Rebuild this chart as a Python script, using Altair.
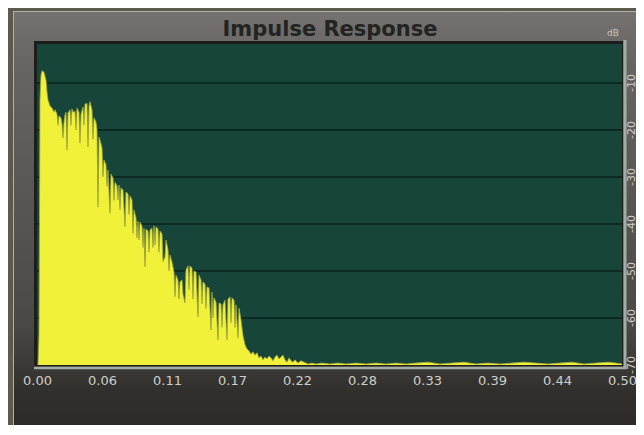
import altair as alt
import pandas as pd

# ---- data ----
time_ms = [0.85, 1.71, 2.56, 3.42, 4.27, 5.98, 7.69, 8.55, 9.40, 11.11, 12.82, 14.53, 15.38, 17.09,
           18.80, 20.51, 21.37, 22.22, 23.08, 23.93, 24.79, 25.64, 26.50, 28.21, 29.91, 30.77, 32.48,
           34.19, 35.90, 36.75, 37.61, 39.32, 41.03, 42.74, 43.59, 44.44, 45.30, 47.01, 48.72, 50.43,
           51.28, 52.14, 52.99, 53.85, 55.56, 57.26, 58.97, 60.68, 62.39, 63.25, 64.96, 66.67, 68.38,
           69.23, 70.09, 71.79, 73.50, 75.21, 76.07, 77.78, 79.49, 81.20, 82.91, 84.62, 86.32, 87.18,
           88.03, 89.74, 91.45, 92.31, 93.16, 94.87, 96.58, 98.29, 100.00, 100.85, 101.71, 103.42,
           105.13, 106.84, 109.40, 110.26, 111.97, 113.68, 115.38, 117.09, 117.95, 118.80, 120.51,
           122.22, 123.93, 126.50, 127.35, 129.06, 130.77, 132.48, 134.19, 135.90, 137.61, 138.46,
           140.17, 141.88, 143.59, 145.30, 147.01, 148.72, 149.57, 151.28, 152.99, 154.70, 155.56,
           157.26, 158.97, 160.68, 162.39, 163.25, 164.96, 166.67, 168.38, 170.09, 171.79, 172.65,
           174.36, 176.07, 177.78, 179.49, 181.20, 182.91, 184.62, 186.32, 188.03, 189.74, 191.45,
           193.16, 194.87, 196.58, 198.29, 200.00, 201.71, 203.42, 205.13, 206.84, 208.55, 210.26,
           211.97, 213.68, 215.38, 217.09, 218.80, 220.51, 223.08, 225.64, 228.21, 231.62, 235.04,
           238.46, 243.59, 250.43, 257.26, 264.10, 272.65, 281.20, 289.74, 298.29, 306.84, 315.38,
           323.93, 334.19, 344.44, 354.70, 364.96, 375.21, 385.47, 395.73, 405.98, 416.24, 426.50,
           436.75, 447.01, 457.26, 467.52, 477.78, 488.03, 494.87, 500.00]

level_db = [-70.0, -63.6, -13.6, -8.3, -7.4, -7.7, -9.4, -11.9, -13.6, -14.9, -15.3, -16.2, -15.7,
            -16.6, -17.0, -17.4, -18.7, -21.7, -18.3, -16.8, -16.2, -24.3, -16.4, -15.7, -15.5, -16.2,
            -16.0, -15.3, -16.2, -22.8, -16.6, -15.1, -14.5, -14.3, -23.6, -14.9, -14.0, -15.7, -17.4,
            -18.3, -20.0, -36.4, -21.5, -22.1, -23.8, -26.4, -27.4, -28.5, -37.7, -29.4, -30.2, -31.1,
            -31.9, -34.9, -31.7, -32.3, -32.8, -40.6, -33.2, -33.6, -34.0, -34.9, -37.0, -38.7, -39.4,
            -43.4, -39.6, -40.4, -40.9, -49.1, -41.1, -41.5, -41.3, -40.9, -40.4, -44.5, -40.6, -41.1,
            -41.5, -42.1, -47.0, -43.4, -45.5, -46.6, -48.1, -50.2, -55.5, -50.9, -51.9, -52.3, -51.9,
            -56.8, -49.8, -48.9, -48.9, -49.4, -50.0, -50.2, -59.8, -50.9, -51.9, -52.3, -52.8, -53.4,
            -53.6, -62.6, -54.5, -55.7, -56.6, -64.7, -56.8, -57.0, -57.2, -56.2, -64.7, -56.0, -55.5,
            -55.7, -56.2, -57.2, -64.3, -57.9, -60.4, -63.8, -65.7, -66.6, -67.0, -67.7, -67.2, -67.9,
            -67.4, -68.5, -68.1, -68.9, -68.3, -68.7, -68.1, -68.5, -69.1, -68.3, -67.9, -68.7, -68.3,
            -67.9, -68.9, -69.4, -68.5, -69.1, -69.4, -68.9, -69.6, -69.1, -69.4, -69.8, -69.6, -69.8,
            -69.6, -69.8, -69.6, -69.8, -69.6, -69.8, -69.6, -69.8, -69.6, -69.8, -69.6, -69.4, -69.8,
            -69.6, -69.4, -69.8, -69.6, -69.8, -69.6, -69.4, -69.6, -69.8, -69.6, -69.4, -69.8, -69.6,
            -69.4, -69.6, -69.8]

# extra narrow dips (dark streaks inside the yellow)
dip_ms = [17.95, 29.06, 33.33, 40.17, 47.86, 56.41, 59.83, 65.81, 70.94, 78.63, 82.05, 85.47,
          90.60, 95.73, 99.15, 104.27, 107.69, 112.82, 121.37, 124.79, 129.91, 133.33, 141.03,
          144.44, 150.43, 158.12, 165.81, 169.23]
dip_db = [-19.0, -19.0, -20.0, -19.0, -22.0, -30.0, -32.0, -35.0, -37.0, -38.0, -42.0, -43.0,
          -45.0, -46.0, -45.0, -46.0, -48.0, -50.0, -56.0, -55.0, -54.0, -56.0, -57.0,
          -58.0, -60.0, -62.0, -61.0, -62.0]

x_tick_values = [0.0, 0.05556, 0.11111, 0.16667, 0.22222, 0.27778, 0.33333, 0.38889, 0.44444, 0.5]
db_grid = [-10, -20, -30, -40, -50, -60]
db_labels = [-10, -20, -30, -40, -50, -60, -70]
title_text = "Impulse Response"

assert len(time_ms) == len(level_db)
assert len(dip_ms) == len(dip_db)

# ---- styles ----
OLIVE = "#5b5a4c"
BEVEL = "#b1b0a9"
BORDER = "#1b1e1b"
TEAL = "#17453a"
GRID = "#0c2a22"
YELLOW = "#f2f13a"
EDGE = "#a2aa3c"
AXISLINE = "#a4ada5"
LABEL = "#cfcfc9"

W, H = 585, 321
xs = alt.Scale(domain=[0, 0.5], nice=False, zero=False)
ys = alt.Scale(domain=[-70, -1.7], nice=False, zero=False)

df = pd.DataFrame({"t": [v / 1000 for v in time_ms + dip_ms], "db": level_db + dip_db})
df = df.sort_values("t").reset_index(drop=True)
grid_df = pd.DataFrame({"g": db_grid})
lab_df = pd.DataFrame({"v": db_labels, "txt": [str(v) for v in db_labels]})
one = pd.DataFrame({"k": [0]})


def rect(x1, x2, y1, y2, fill):
    return alt.Chart(one).mark_rect(fill=fill).encode(
        x=alt.value(x1), x2=alt.value(x2), y=alt.value(y1), y2=alt.value(y2))


panel_grad = alt.Gradient(
    gradient="linear",
    stops=[alt.GradientStop(color="#74716f", offset=0),
           alt.GradientStop(color="#676563", offset=0.12),
           alt.GradientStop(color="#4a4946", offset=0.72),
           alt.GradientStop(color="#302f2c", offset=0.88),
           alt.GradientStop(color="#2a2927", offset=1)],
    x1=0, x2=0, y1=0, y2=1)

bevel = rect(-24, 620, -33, 400, BEVEL)
panel = rect(-23, 620, -32, 400, panel_grad)
border = rect(-3, W + 1, -3, H + 1, BORDER)
plotbg = rect(0, W, 0, H, TEAL)

grid = alt.Chart(grid_df).mark_rule(color=GRID, strokeWidth=2).encode(
    y=alt.Y("g:Q", scale=ys, axis=None), x=alt.value(0), x2=alt.value(W))

x_axis = alt.Axis(values=x_tick_values, format=".2f", title=None, domain=False,
                  ticks=False, grid=False, labelFont="DejaVu Sans", labelFontSize=13,
                  labelColor=LABEL, labelPadding=9, labelFlush=False, zindex=2)

area = alt.Chart(df).mark_area(color=YELLOW, interpolate="linear").encode(
    x=alt.X("t:Q", scale=xs, axis=x_axis),
    y=alt.Y("db:Q", scale=ys, axis=None),
    y2=alt.datum(-70))

edge = alt.Chart(df).mark_line(color=EDGE, strokeWidth=0.8, interpolate="linear").encode(
    x=alt.X("t:Q", scale=xs, axis=x_axis), y=alt.Y("db:Q", scale=ys, axis=None))

xline = alt.Chart(one).mark_rule(color=AXISLINE, strokeWidth=2.5).encode(
    x=alt.value(-3), x2=alt.value(W + 4.5), y=alt.value(H + 3))
yline = alt.Chart(one).mark_rule(color=AXISLINE, strokeWidth=3).encode(
    x=alt.value(W + 3), y=alt.value(-4), y2=alt.value(H + 4))

ylabels = alt.Chart(lab_df).mark_text(
    font="DejaVu Sans", fontSize=11, color=LABEL, angle=270, align="center", baseline="middle"
).encode(y=alt.Y("v:Q", scale=ys), x=alt.value(W + 9.5), text="txt:N")

title = alt.Chart(one).mark_text(
    text=title_text, font="DejaVu Sans", fontSize=21, fontWeight="bold", color="#232321",
    align="center", baseline="alphabetic").encode(x=alt.value(W / 2 + 0.5), y=alt.value(-8))

unit = alt.Chart(one).mark_text(
    text="dB", font="DejaVu Sans", fontSize=9, color="#c8c8c2", align="center",
    baseline="middle").encode(x=alt.value(W - 9), y=alt.value(-11))

chart = alt.layer(
    bevel, panel, border, plotbg, grid, area, edge, xline, yline, ylabels, title, unit
).properties(
    width=W, height=H,
    autosize=alt.AutoSizeParams(type="none"),
    padding={"left": 29, "top": 36, "right": 14, "bottom": 60},
).configure(background=OLIVE).configure_view(stroke=None)

chart.save("out.html", embed_options={"renderer": "svg", "actions": False})
